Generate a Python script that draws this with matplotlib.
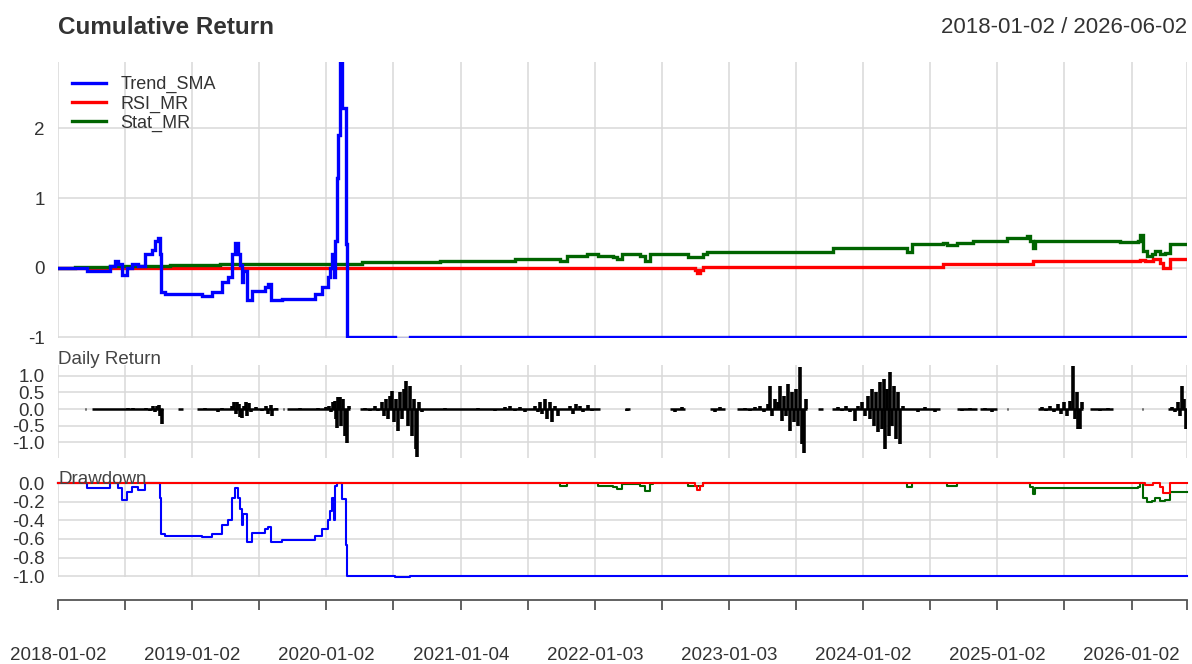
import matplotlib
matplotlib.use("Agg")
import matplotlib.pyplot as plt
import numpy as np

plt.rcParams['font.family'] = ['Liberation Sans', 'DejaVu Sans']
plt.rcParams['axes.unicode_minus'] = False

# time in years since 2018-01-02
end_t = 8.413
year_ticks = [0, 1, 2, 3.005, 4.003, 5.003, 6, 7, 8]
year_labels = ["2018-01-02", "2019-01-02", "2020-01-02", "2021-01-04", "2022-01-03",
               "2023-01-03", "2024-01-02", "2025-01-02", "2026-01-02"]
half_ticks = [0.5, 1.5, 2.5, 3.5, 4.5, 5.5, 6.5, 7.5, 8.413]

# cumulative returns (breakpoints)
trend_t = [0.000, 0.216, 0.387, 0.425, 0.447, 0.477, 0.514, 0.551, 0.596, 0.648, 0.700,
           0.723, 0.745, 0.760, 0.768, 0.797, 1.073, 1.148, 1.222, 1.267, 1.297, 1.319,
           1.341, 1.356, 1.371, 1.379, 1.408, 1.446, 1.542, 1.565, 1.587, 1.669, 1.863,
           1.915, 1.967, 2.012, 2.027, 2.042, 2.057, 2.064, 2.079, 2.086, 2.101, 2.114,
           2.139, 2.144, 2.151, 2.156, 2.511, 2.623, 8.413]
trend_v = [0.00, -0.05, 0.03, 0.10, 0.05, -0.10, 0.00, 0.06, 0.02, 0.20, 0.25,
           0.38, 0.43, 0.20, -0.35, -0.38, -0.40, -0.35, -0.21, -0.14, 0.20, 0.36,
           0.20, 0.04, -0.21, -0.05, -0.47, -0.33, -0.28, -0.24, -0.47, -0.45, -0.45,
           -0.38, -0.28, -0.14, 0.00, 0.20, -0.14, 0.39, 1.29, 1.91, 2.95, 2.29,
           2.29, 0.34, -0.57, -1.00, -1.02, -1.00, -1.00]

rsi_t = [0.000, 4.709, 4.747, 4.762, 4.784, 4.806, 6.595, 6.647, 7.265, 8.063, 8.100,
         8.160, 8.212, 8.234, 8.286, 8.413]
rsi_v = [0.00, 0.00, -0.03, -0.07, -0.03, 0.01, 0.05, 0.06, 0.09, 0.11, 0.09,
         0.12, 0.07, 0.00, 0.12, 0.12]

stat_t = [0.000, 0.127, 0.387, 0.835, 1.207, 1.766, 2.049, 2.265, 2.846, 3.405, 3.741,
          3.793, 3.942, 4.024, 4.136, 4.165, 4.203, 4.337, 4.374, 4.411, 4.434, 4.694,
          4.806, 4.836, 5.320, 5.775, 6.326, 6.364, 6.595, 6.624, 6.699, 6.818, 7.072,
          7.221, 7.243, 7.265, 7.280, 7.914, 8.048, 8.063, 8.085, 8.115, 8.152, 8.174,
          8.212, 8.249, 8.286, 8.413]
stat_v = [0.00, 0.01, 0.03, 0.04, 0.05, 0.055, 0.06, 0.08, 0.10, 0.12, 0.09,
          0.17, 0.20, 0.17, 0.15, 0.12, 0.19, 0.17, 0.10, 0.19, 0.20, 0.16,
          0.20, 0.22, 0.23, 0.28, 0.23, 0.34, 0.36, 0.32, 0.36, 0.39, 0.43,
          0.45, 0.39, 0.29, 0.38, 0.37, 0.39, 0.47, 0.24, 0.17, 0.19, 0.24,
          0.19, 0.21, 0.34, 0.34]

# daily return: stretches with data, and the larger daily moves
seg_start = [0.201, 0.253, 0.894, 1.036, 1.677, 1.706, 2.250, 4.225, 4.560, 4.858, 5.060,
             5.663, 5.768, 6.699, 6.870, 7.072, 7.302, 7.690, 8.077, 8.271]
seg_end = [0.209, 0.782, 0.931, 1.639, 1.684, 2.176, 4.039, 4.262, 4.672, 4.970, 5.581,
           5.700, 6.572, 6.848, 6.997, 7.079, 7.638, 7.861, 8.085, 8.413]
ret_t = [0.462, 0.522, 0.559, 0.611, 0.656, 0.686, 0.708, 0.723, 0.738, 0.753, 0.760, 0.775,
         1.095, 1.192, 1.222, 1.297, 1.311, 1.326, 1.334, 1.349, 1.356, 1.371, 1.386, 1.401,
         1.408, 1.423, 1.438, 1.475, 1.520, 1.550, 1.565, 1.587, 1.595, 1.624,
         1.803, 1.937, 1.967, 1.997, 2.019, 2.034, 2.049, 2.064, 2.072, 2.079, 2.086, 2.101,
         2.109, 2.124, 2.139, 2.154, 2.168,
         2.288, 2.325, 2.362, 2.385, 2.414, 2.429, 2.444, 2.459, 2.474, 2.489, 2.504, 2.519,
         2.534, 2.548, 2.563, 2.578, 2.593, 2.608, 2.623, 2.638, 2.653, 2.668, 2.675, 2.690,
         2.712,
         2.884, 2.996, 3.130, 3.256, 3.331, 3.368, 3.405, 3.443, 3.480, 3.554, 3.577, 3.592,
         3.607, 3.629, 3.644, 3.666, 3.681, 3.703, 3.726, 3.815, 3.838, 3.860, 3.890, 3.912,
         3.949, 3.979,
         4.240, 4.598, 4.650, 4.896, 4.933,
         5.119, 5.157, 5.194, 5.231, 5.261, 5.291, 5.306, 5.320, 5.343, 5.365, 5.380, 5.395,
         5.410, 5.425, 5.440, 5.455, 5.469, 5.484, 5.499, 5.514, 5.529, 5.544, 5.559, 5.574,
         5.812, 5.842, 5.872, 5.902, 5.939, 5.961, 5.991, 6.013, 6.036, 6.051, 6.066, 6.081,
         6.096, 6.110, 6.125, 6.140, 6.155, 6.162, 6.177, 6.192, 6.200, 6.215, 6.230, 6.244,
         6.259, 6.274, 6.297, 6.408, 6.461, 6.535,
         6.736, 6.796, 6.908, 6.960,
         7.332, 7.362, 7.392, 7.422, 7.452, 7.474, 7.496, 7.519, 7.541, 7.563, 7.578, 7.593,
         7.601, 7.615, 7.630, 7.765, 7.824,
         8.301, 8.323, 8.346, 8.361, 8.376, 8.390, 8.405]
ret_v = [-0.03, 0.03, 0.02, -0.04, 0.03, -0.06, 0.08, -0.10, 0.10, 0.12, -0.20, -0.46,
         0.02, -0.10, 0.03, 0.10, 0.20, -0.15, 0.22, 0.15, -0.25, -0.27, 0.10, 0.20,
         -0.20, 0.18, -0.10, 0.05, -0.05, 0.10, -0.15, 0.12, -0.20, 0.03,
         0.02, 0.03, -0.04, 0.05, 0.08, -0.10, 0.20, 0.25, -0.30, -0.57, 0.35, 0.36,
         -0.50, 0.30, -0.80, -1.02, 0.10,
         0.04, -0.05, 0.08, -0.06, 0.20, -0.20, 0.30, -0.30, 0.40, 0.55, -0.40, 0.30,
         -0.67, 0.50, -0.30, 0.60, 0.85, -0.50, 0.70, -0.80, 0.30, -1.20, -1.45, 0.20,
         -0.10,
         0.03, -0.03, 0.04, -0.05, 0.05, 0.08, -0.06, 0.06, -0.08, 0.10, -0.10, 0.20,
         -0.15, 0.30, -0.30, 0.20, -0.40, 0.10, -0.20, 0.10, -0.15, 0.15, 0.08, -0.10,
         0.12, -0.05,
         -0.05, -0.08, 0.05, -0.10, 0.05,
         0.03, -0.05, 0.06, 0.10, -0.10, 0.15, 0.70, -0.20, 0.30, 0.20, 0.70, -0.36,
         0.40, -0.20, 0.75, -0.67, 0.50, -0.40, 0.60, -0.50, 1.27, -1.06, -1.32, 0.30,
         0.05, -0.05, 0.10, -0.10, -0.36, 0.10, 0.20, -0.20, 0.40, -0.30, 0.60, -0.50,
         0.50, -0.70, 0.80, -0.60, 0.90, -1.20, 0.60, -0.80, 1.10, -0.50, 0.70, -0.90,
         0.50, -1.06, 0.10, -0.10, 0.05, -0.10,
         -0.05, 0.04, 0.03, -0.10,
         0.05, -0.05, 0.10, -0.10, 0.15, -0.15, 0.20, -0.20, 0.25, 1.30, -0.30, 0.50,
         -0.60, -0.60, 0.20, -0.05, 0.03,
         0.05, -0.10, 0.20, -0.20, 0.70, 0.30, -0.60]

names = ["Trend_SMA", "RSI_MR", "Stat_MR"]
colors = {"Trend_SMA": "#0000FF", "RSI_MR": "#FF0000", "Stat_MR": "#006400"}
series = {"Trend_SMA": (trend_t, trend_v), "RSI_MR": (rsi_t, rsi_v), "Stat_MR": (stat_t, stat_v)}

W, H = 1192, 664
fig = plt.figure(figsize=(W / 100, H / 100), dpi=100)
text_col = "#333333"
grid_col = "#D9D9D9"


def box(top, bottom):
    return [58 / W, 1 - bottom / H, (1187 - 58) / W, (bottom - top) / H]


ax1 = fig.add_axes(box(62, 338))
ax2 = fig.add_axes(box(365, 458))
ax3 = fig.add_axes(box(482, 577))

for ax in (ax1, ax2, ax3):
    ax.set_xlim(0, end_t)
    for s in ax.spines.values():
        s.set_visible(False)
    ax.set_xticks(year_ticks)
    ax.set_xticks(half_ticks, minor=True)
    ax.grid(True, which="both", axis="x", color=grid_col, lw=1.1, zorder=0)
    ax.grid(True, which="major", axis="y", color=grid_col, lw=1.1, zorder=0)
    ax.tick_params(axis="y", length=0, pad=9.5, labelsize=13.5, labelcolor=text_col)
    ax.set_axisbelow(True)

for ax in (ax1, ax2):
    ax.tick_params(axis="x", which="both", bottom=False, labelbottom=False)

# cumulative return panel
lines = {}
for name in ["RSI_MR", "Stat_MR", "Trend_SMA"]:
    t, v = series[name]
    lines[name], = ax1.plot(t, v, drawstyle="steps-post", color=colors[name], lw=2.4,
                            label=name, zorder=3, solid_joinstyle="miter")
ax1.set_ylim(-1.01, 2.955)
ax1.set_yticks([-1, 0, 1, 2])
ax1.set_yticklabels(["-1", "0", "1", "2"])
ax1.legend([lines[n] for n in names], names, loc="upper left", bbox_to_anchor=(0.012, 0.949),
           frameon=False, fontsize=13, handlelength=1.9, handletextpad=0.8,
           labelspacing=0.12, borderpad=0, borderaxespad=0, labelcolor=text_col)

# daily return panel
ax2.hlines(np.zeros(len(seg_start)), seg_start, seg_end, color="black", lw=1.8, zorder=3)
ax2.vlines(ret_t, np.zeros(len(ret_t)), ret_v, color="black", lw=2.6, zorder=3)
ax2.set_ylim(-1.47, 1.32)
ax2.set_yticks([-1.0, -0.5, 0.0, 0.5, 1.0])
ax2.set_yticklabels(["-1.0", "-0.5", "0.0", "0.5", "1.0"])

# drawdown panel
for name in ["Trend_SMA", "Stat_MR", "RSI_MR"]:
    t, v = series[name]
    wealth = 1 + np.array(v)
    dd = wealth / np.maximum.accumulate(wealth) - 1
    ax3.plot(t, dd, drawstyle="steps-post", color=colors[name], lw=1.5, zorder=3,
             clip_on=False)
ax3.set_ylim(-1.01, 0.014)
ax3.set_yticks([-1.0, -0.8, -0.6, -0.4, -0.2, 0.0])
ax3.set_yticklabels(["-1.0", "-0.8", "-0.6", "-0.4", "-0.2", "0.0"])

ax3.spines["bottom"].set_visible(True)
ax3.spines["bottom"].set_position(("outward", 16.5))
ax3.spines["bottom"].set_color("#555555")
ax3.spines["bottom"].set_linewidth(1.3)
ax3.tick_params(axis="x", which="both", direction="out", length=7.5, width=1.3,
                color="#555555", pad=26.5, labelsize=13.5, labelcolor=text_col)
ax3.set_xticklabels(year_labels)

# titles
fig.text(58 / W, 1 - 34 / H, "Cumulative Return", fontsize=17.5, fontweight="bold",
         color=text_col, va="baseline", ha="left")
fig.text(1187 / W, 1 - 33 / H, "2018-01-02 / 2026-06-02", fontsize=16,
         color=text_col, va="baseline", ha="right")
fig.text(58 / W, 1 - 364 / H, "Daily Return", fontsize=13.5, color="#444444", va="baseline")
fig.text(58 / W, 1 - 484 / H, "Drawdown", fontsize=13.5, color="#444444", va="baseline")

fig.savefig("out.png", dpi=100)
